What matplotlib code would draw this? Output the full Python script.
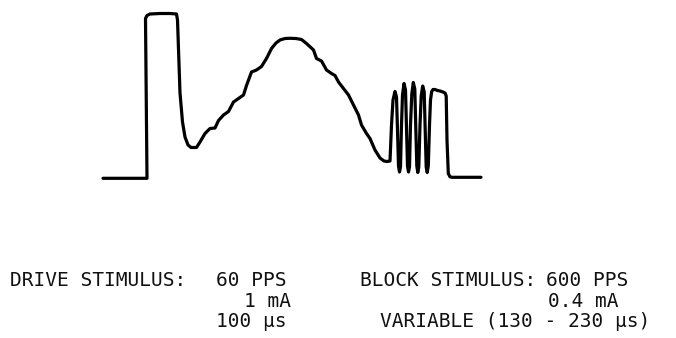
import numpy as np
import matplotlib.pyplot as plt

# Trace (x to the right, y downward, pixel units)
trace_x = [103, 147, 145.5, 147, 150, 160, 170, 176.5, 177.5, 180, 182.5, 185, 188,
           191, 196.5, 200, 205, 210, 215, 218.5, 223.5, 228.5, 233.5, 238.5, 243.5,
           246.5, 251.5, 256.5, 261.5, 266.5, 271.5, 276, 280, 285, 290, 296, 301.5,
           306.5, 313.5, 316.5, 321.5, 326.5, 331.5, 335, 338.5, 343.5, 348.5, 353.5,
           358.5, 361.5, 366.5, 370, 375, 380, 384, 387, 390,
           391.5, 393, 395, 396.5, 397.5, 398.5, 399.5, 400.5,
           401.5, 402.5, 404, 405.5, 406.5, 407.5, 408.5, 409.5,
           410.5, 411.8, 413.3, 414.8, 415.8, 416.8, 417.8, 418.8,
           420, 421.2, 422.7, 424.2, 425.2, 426.2, 427.2, 428.3,
           429.5, 430.5, 431.7, 433, 435, 437.5, 440, 443, 445, 446.2, 447, 448.3,
           450, 452, 481]
trace_y = [178.3, 178.3, 18.5, 15.5, 14, 13.5, 13.5, 14, 20, 93, 122, 137, 145,
           147.5, 147.5, 142, 133.5, 128.5, 128, 120.5, 115, 111.5, 102, 98.5, 95,
           85.5, 72, 70, 66.5, 58.5, 48.5, 43, 40, 38.5, 38.3, 38.5, 39.5,
           43.5, 50, 58.5, 61, 70, 73.5, 75.5, 82, 88.5, 95, 105, 115, 125, 133.5,
           138.5, 150, 158, 161, 161.5, 161,
           125, 100, 91.5, 97, 130, 166, 172, 167,
           125, 95, 83.5, 90, 128, 166, 172, 167,
           125, 94, 82.5, 89, 128, 166, 172.5, 167,
           125, 96, 86, 92, 130, 167, 172.5, 166,
           125, 100, 91.5, 89.5, 89.5, 90.5, 91, 92, 93, 96, 140, 173.5,
           176.8, 177.3, 177.3]

# Caption text chunks: (text, left x, centre y)
drive_lines = ["DRIVE STIMULUS:", "60 PPS", "1 mA", "100 µs"]
drive_x = [10, 216.5, 244, 216.5]
drive_y = [280.5, 280.5, 301.5, 321.5]
block_lines = ["BLOCK STIMULUS:", "600 PPS", "0.4 mA", "VARIABLE (130 - 230 µs)"]
block_x = [360, 546.5, 548, 380]
block_y = [280.5, 280.5, 301.5, 321.5]

fig = plt.figure(figsize=(6.76, 3.38), dpi=100)
ax = fig.add_axes([0, 0, 1, 1])
ax.set_xlim(0, 676)
ax.set_ylim(338, 0)
ax.axis("off")

ax.plot(trace_x, trace_y, color="black", lw=2.3,
        solid_joinstyle="round", solid_capstyle="round")

for txt, x, y in zip(drive_lines + block_lines, drive_x + block_x, drive_y + block_y):
    ax.text(x, y, txt, ha="left", va="center", fontsize=14,
            family="DejaVu Sans Mono", color="#111111")

fig.savefig("out.png", dpi=100, facecolor="white")
